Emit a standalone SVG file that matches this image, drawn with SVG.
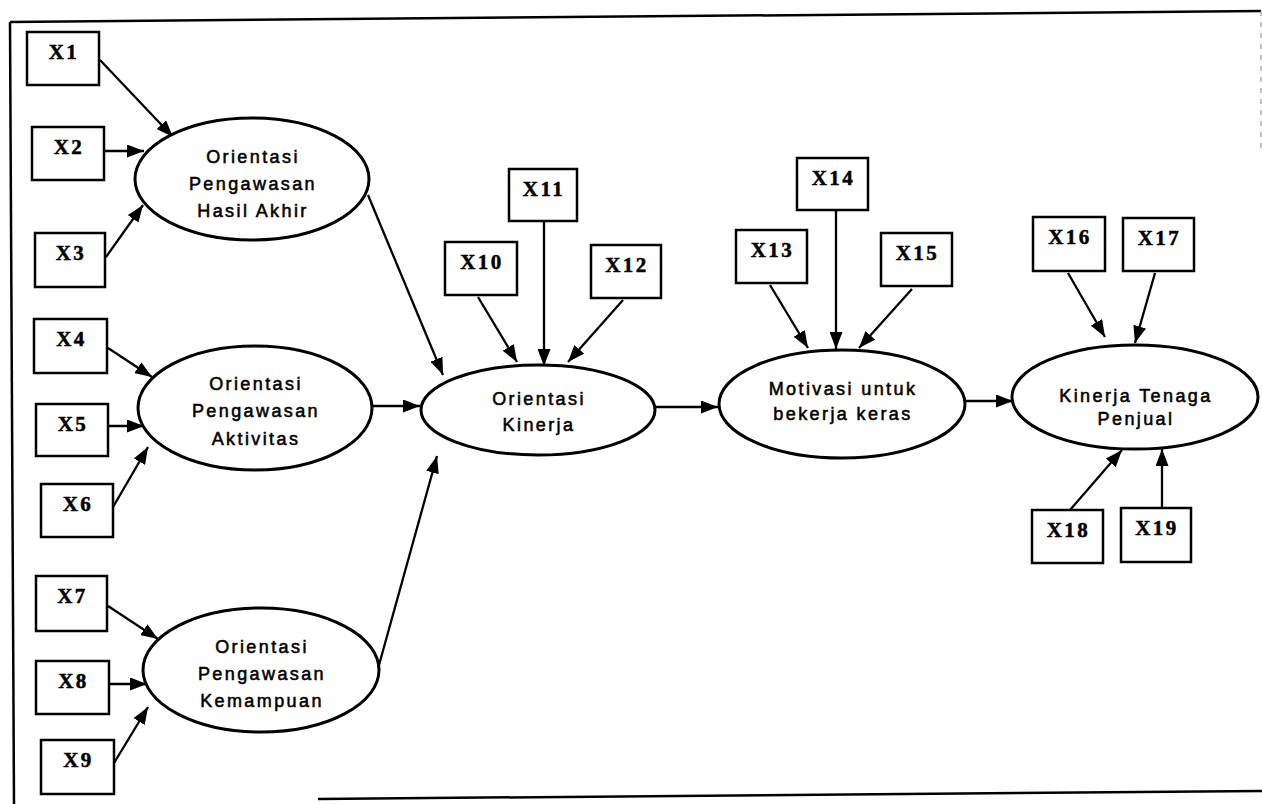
<svg xmlns="http://www.w3.org/2000/svg" width="1262" height="804" viewBox="0 0 1262 804">
  <style>
    .frame { fill: none; stroke: #000; stroke-width: 2.5; }
    .box rect { fill: #fff; stroke: #000; stroke-width: 2.5; }
    .box text { font-family: "Liberation Serif", "Times New Roman", serif; font-weight: bold; font-size: 21px; letter-spacing: 2.5px; text-anchor: middle; fill: #000; stroke: #000; stroke-width: 0.5; }
    .lat ellipse { fill: #fff; stroke: #000; stroke-width: 3; }
    .lat text { font-family: "Liberation Sans", Arial, sans-serif; font-size: 18px; letter-spacing: 2.4px; text-anchor: middle; fill: #000; stroke: #000; stroke-width: 0.55; }
    .conn line { stroke: #000; stroke-width: 2.3; marker-end: url(#head); }
  </style>
  <defs>
    <marker id="head" viewBox="0 0 17 13" refX="17" refY="6.5" markerWidth="17" markerHeight="13" markerUnits="userSpaceOnUse" orient="auto">
      <path d="M0,0 L17,6.5 L0,13 z" fill="#000"/>
    </marker>
  </defs>
  <rect width="1262" height="804" fill="#fff"/>

  <!-- outer frame -->
  <g id="frame">
    <path class="frame" d="M10,22 L1261,11"/>
    <path class="frame" d="M10,22 L14,804"/>
    <path class="frame" d="M318,799 L1262,791"/>
    <path d="M1261,11 L1261,150" fill="none" stroke="#888" stroke-width="1" stroke-dasharray="5 6"/>
  </g>

  <!-- connectors -->
  <g id="connectors" class="conn">
    <line x1="100" y1="60" x2="173" y2="137"/>
    <line x1="105" y1="151" x2="144" y2="151"/>
    <line x1="106" y1="257" x2="143" y2="205"/>
    <line x1="108" y1="348" x2="152" y2="377"/>
    <line x1="108" y1="426" x2="144" y2="426"/>
    <line x1="113" y1="507" x2="148" y2="447"/>
    <line x1="108" y1="606" x2="158" y2="639"/>
    <line x1="109" y1="684" x2="147" y2="684"/>
    <line x1="114" y1="763" x2="148" y2="707"/>
    <line x1="368" y1="195" x2="443" y2="375"/>
    <line x1="373" y1="406" x2="420" y2="406"/>
    <line x1="379" y1="665" x2="437" y2="456"/>
    <line x1="478" y1="297" x2="517" y2="362"/>
    <line x1="544" y1="221" x2="544" y2="366"/>
    <line x1="623" y1="300" x2="568" y2="362"/>
    <line x1="656" y1="407" x2="718" y2="407"/>
    <line x1="770" y1="285" x2="808" y2="348"/>
    <line x1="836" y1="210" x2="836" y2="349"/>
    <line x1="912" y1="289" x2="859" y2="348"/>
    <line x1="965" y1="401" x2="1013" y2="401"/>
    <line x1="1068" y1="273" x2="1105" y2="337"/>
    <line x1="1155" y1="273" x2="1135" y2="343"/>
    <line x1="1070" y1="510" x2="1122" y2="450"/>
    <line x1="1162" y1="508" x2="1162" y2="449"/>
  </g>

  <!-- latent constructs -->
  <g id="hasil-akhir" class="lat">
    <ellipse cx="252" cy="179" rx="117" ry="61"/>
    <text x="253" y="163">Orientasi</text>
    <text x="253" y="190">Pengawasan</text>
    <text x="253" y="217">Hasil Akhir</text>
  </g>
  <g id="aktivitas" class="lat">
    <ellipse cx="255" cy="408" rx="117" ry="62"/>
    <text x="256" y="390">Orientasi</text>
    <text x="256" y="417">Pengawasan</text>
    <text x="256" y="445">Aktivitas</text>
  </g>
  <g id="kemampuan" class="lat">
    <ellipse cx="261" cy="670" rx="118" ry="62"/>
    <text x="262" y="653">Orientasi</text>
    <text x="262" y="680">Pengawasan</text>
    <text x="262" y="707">Kemampuan</text>
  </g>
  <g id="orientasi-kinerja" class="lat">
    <ellipse cx="538" cy="410" rx="117" ry="45"/>
    <text x="539" y="405">Orientasi</text>
    <text x="539" y="431">Kinerja</text>
  </g>
  <g id="motivasi" class="lat">
    <ellipse cx="842" cy="404" rx="123" ry="54"/>
    <text x="843" y="395">Motivasi untuk</text>
    <text x="843" y="420">bekerja keras</text>
  </g>
  <g id="kinerja-tenaga-penjual" class="lat">
    <ellipse cx="1135" cy="397" rx="123" ry="52"/>
    <text x="1136" y="402">Kinerja Tenaga</text>
    <text x="1136" y="425">Penjual</text>
  </g>

  <!-- indicators -->
  <g id="x1" class="box"><rect x="27" y="32" width="72" height="53"/><text x="64" y="59">X1</text></g>
  <g id="x2" class="box"><rect x="32" y="127" width="72" height="53"/><text x="69" y="154">X2</text></g>
  <g id="x3" class="box"><rect x="35" y="233" width="70" height="54"/><text x="71" y="260">X3</text></g>
  <g id="x4" class="box"><rect x="34" y="319" width="73" height="54"/><text x="71.5" y="346">X4</text></g>
  <g id="x5" class="box"><rect x="36" y="404" width="72" height="52"/><text x="73" y="431">X5</text></g>
  <g id="x6" class="box"><rect x="41" y="484" width="72" height="53"/><text x="78" y="511">X6</text></g>
  <g id="x7" class="box"><rect x="36" y="576" width="71" height="55"/><text x="72.5" y="603">X7</text></g>
  <g id="x8" class="box"><rect x="36" y="661" width="73" height="53"/><text x="73.5" y="688">X8</text></g>
  <g id="x9" class="box"><rect x="41" y="740" width="73" height="54"/><text x="78.5" y="767">X9</text></g>
  <g id="x10" class="box"><rect x="445" y="242" width="72" height="53"/><text x="482" y="269">X10</text></g>
  <g id="x11" class="box"><rect x="509" y="169" width="68" height="52"/><text x="544" y="196">X11</text></g>
  <g id="x12" class="box"><rect x="591" y="245" width="70" height="53"/><text x="627" y="272">X12</text></g>
  <g id="x13" class="box"><rect x="736" y="230" width="71" height="53"/><text x="772.5" y="257">X13</text></g>
  <g id="x14" class="box"><rect x="797" y="158" width="71" height="52"/><text x="833.5" y="185">X14</text></g>
  <g id="x15" class="box"><rect x="881" y="233" width="71" height="53"/><text x="917.5" y="260">X15</text></g>
  <g id="x16" class="box"><rect x="1033" y="217" width="72" height="54"/><text x="1070" y="244">X16</text></g>
  <g id="x17" class="box"><rect x="1123" y="218" width="71" height="53"/><text x="1159.5" y="245">X17</text></g>
  <g id="x18" class="box"><rect x="1032" y="510" width="71" height="53"/><text x="1068.5" y="537">X18</text></g>
  <g id="x19" class="box"><rect x="1121" y="508" width="70" height="54"/><text x="1157" y="535">X19</text></g>
</svg>
